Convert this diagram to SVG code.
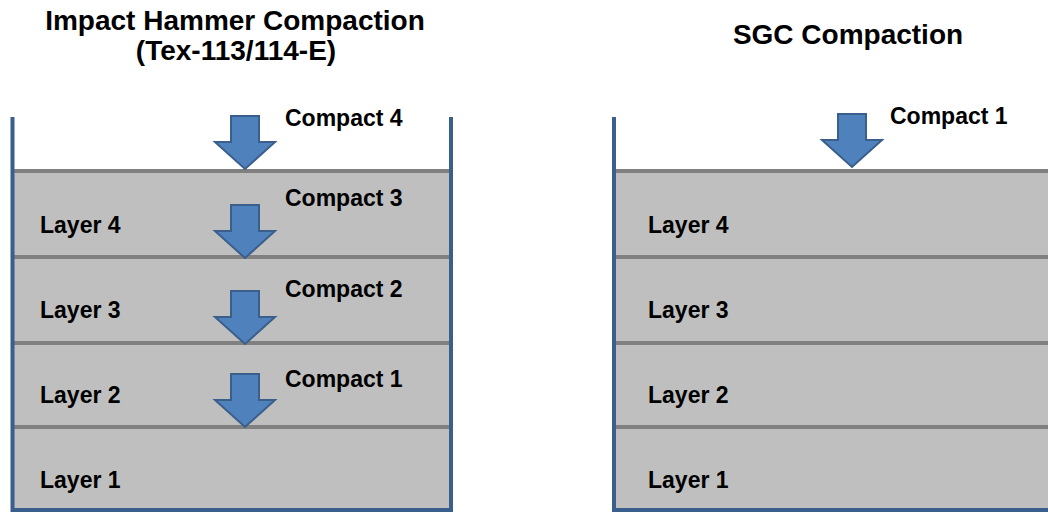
<svg xmlns="http://www.w3.org/2000/svg" width="1048" height="512" viewBox="0 0 1048 512">
  <style>
    .title { font-family: "Liberation Sans", Arial, sans-serif; font-weight: bold; font-size: 28px; fill: #000; text-anchor: middle; }
    .label { font-family: "Liberation Sans", Arial, sans-serif; font-weight: bold; font-size: 23px; fill: #000; }
    .fill { fill: #bfbfbf; }
    .sep { fill: #808080; }
    .wall { fill: none; stroke: #3a5f8c; stroke-width: 4; }
    .arrow { fill: #4f81bd; stroke: #3a5f8c; stroke-width: 2; stroke-linejoin: miter; }
  </style>
  <defs>
    <!-- block arrow, tip at (0,0), pointing down -->
    <path id="down" class="arrow" d="M-14,-53 H14 V-27 H30 L0,0 L-30,-27 H-14 Z"/>
  </defs>

  <rect width="1048" height="512" fill="#fff"/>

  <!-- Left: impact hammer compaction column -->
  <g id="impact-hammer">
    <text class="title" x="235" y="30">Impact Hammer Compaction</text>
    <text class="title" x="236" y="60">(Tex-113/114-E)</text>
    <rect class="fill" x="14" y="171" width="436" height="339"/>
    <rect class="sep" x="14" y="169" width="436" height="4"/>
    <rect class="sep" x="14" y="255" width="436" height="4"/>
    <rect class="sep" x="14" y="341" width="436" height="4"/>
    <rect class="sep" x="14" y="425" width="436" height="4"/>
    <path class="wall" d="M12.5,117 V510 H451 V117"/>
  </g>

  <g id="impact-layers">
    <text class="label" x="40" y="233">Layer 4</text>
    <text class="label" x="40" y="318">Layer 3</text>
    <text class="label" x="40" y="403">Layer 2</text>
    <text class="label" x="40" y="488">Layer 1</text>
  </g>

  <g id="impact-compacts">
    <use href="#down" x="245" y="169"/>
    <use href="#down" x="245" y="258"/>
    <use href="#down" x="245" y="344"/>
    <use href="#down" x="245" y="427"/>
    <text class="label" x="285" y="126">Compact 4</text>
    <text class="label" x="285" y="206">Compact 3</text>
    <text class="label" x="285" y="297">Compact 2</text>
    <text class="label" x="285" y="387">Compact 1</text>
  </g>

  <!-- Right: gyratory compaction column -->
  <g id="sgc">
    <text class="title" x="848" y="44">SGC Compaction</text>
    <rect class="fill" x="616" y="171" width="432" height="339"/>
    <rect class="sep" x="616" y="169" width="432" height="4"/>
    <rect class="sep" x="616" y="255" width="432" height="4"/>
    <rect class="sep" x="616" y="341" width="432" height="4"/>
    <rect class="sep" x="616" y="425" width="432" height="4"/>
    <path class="wall" d="M614,117 V510 H1050"/>
  </g>

  <g id="sgc-layers">
    <text class="label" x="648" y="233">Layer 4</text>
    <text class="label" x="648" y="318">Layer 3</text>
    <text class="label" x="648" y="403">Layer 2</text>
    <text class="label" x="648" y="488">Layer 1</text>
  </g>

  <g id="sgc-compact">
    <use href="#down" x="852" y="167"/>
    <text class="label" x="890" y="124">Compact 1</text>
  </g>
</svg>
